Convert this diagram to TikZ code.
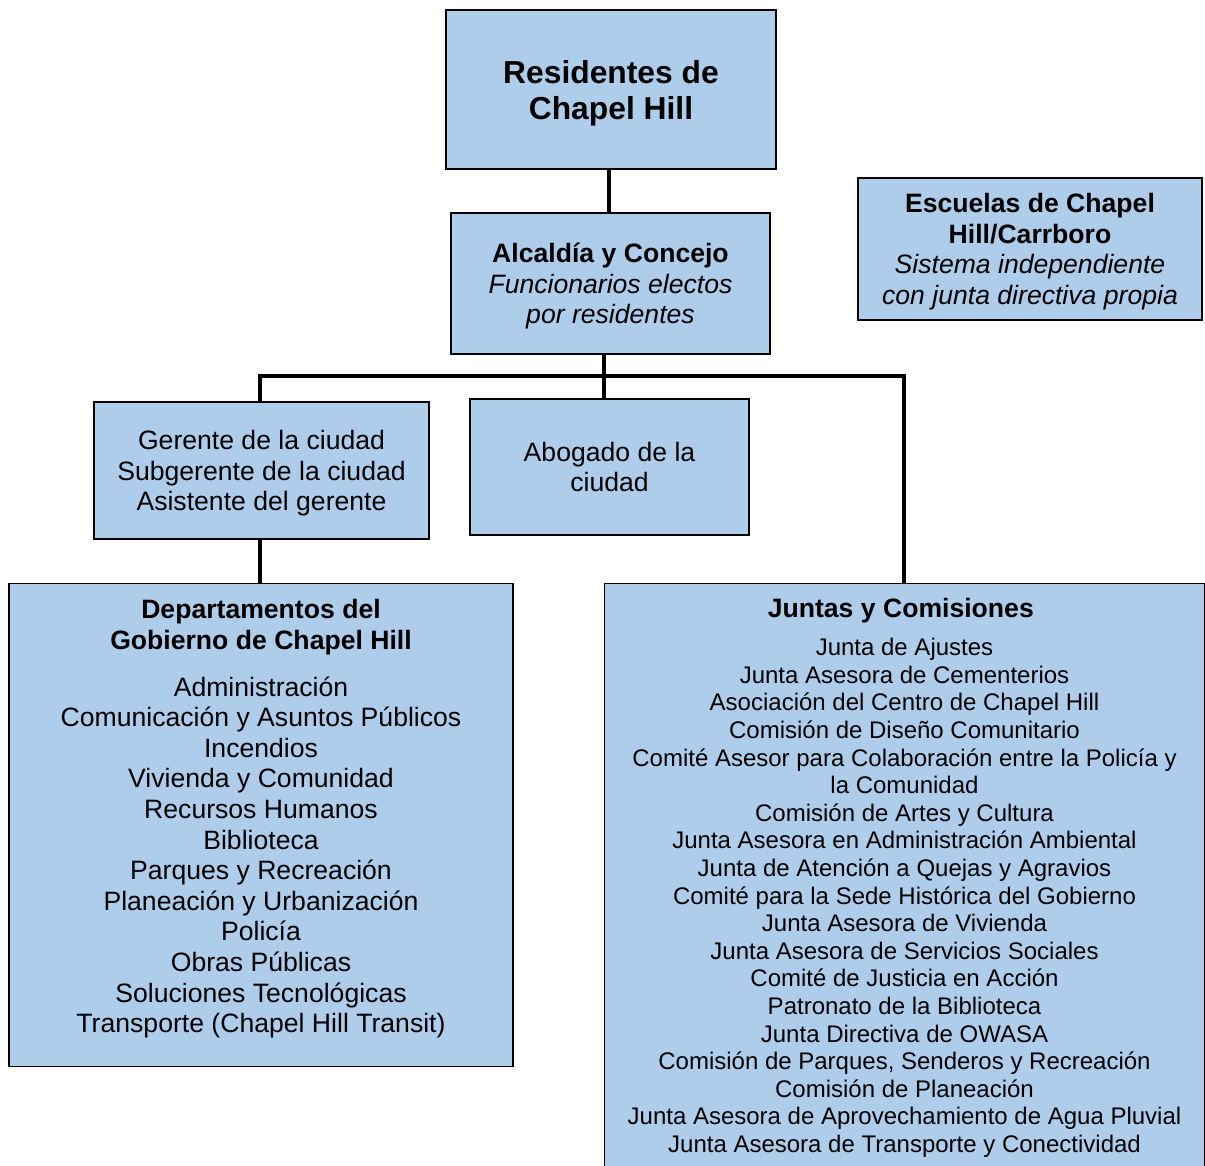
\documentclass[tikz,border=0pt]{standalone}
\usepackage{fontspec}
\setmainfont{Liberation Sans}
\usepackage{tikz}
\definecolor{boxblue}{RGB}{173, 205, 235}
\usetikzlibrary{positioning, calc}

\begin{document}
\begin{tikzpicture}[x=1pt, y=-1pt,
    box/.style={draw=black, line width=1.4pt, fill=boxblue, inner sep=0pt,
                text depth=0pt, align=center},
    link/.style={draw=black, line width=4.5pt},
    body/.style={font=\fontsize{26.6}{30.6}\selectfont},
    small/.style={font=\fontsize{24}{27.6}\selectfont}
]
    \useasboundingbox (0,0) rectangle (1205,1166);
    \clip (0,0) rectangle (1205,1166);

    % Residentes
    \node[box, minimum width=330, minimum height=159,
          font=\fontsize{31.8}{36}\selectfont\bfseries] (res) at (611,89.5) {
        Residentes de\\Chapel Hill
    };

    % Alcaldia
    \node[box, body, minimum width=319, minimum height=141] (mayor) at (610.5,283.5) {
        \textbf{Alcald\'ia y Concejo}\\
        \textit{Funcionarios electos}\\
        \textit{por residentes}
    };

    % Escuelas
    \node[box, body, minimum width=344, minimum height=142] (schools) at (1030,249) {
        \textbf{Escuelas de Chapel}\\
        \textbf{Hill/Carrboro}\\
        \textit{Sistema independiente}\\
        \textit{con junta directiva propia}
    };

    % Gerente
    \node[box, body, minimum width=335, minimum height=137] (manager) at (261.5,470.5) {
        Gerente de la ciudad\\
        Subgerente de la ciudad\\
        Asistente del gerente
    };

    % Abogado
    \node[box, body, minimum width=279, minimum height=136] (lawyer) at (609.5,467) {
        Abogado de la\\ciudad
    };

    % Departamentos
    \node[box, minimum width=504, minimum height=483, anchor=north] (depts) at (261,583) {};
    \node[body, align=center, anchor=north] (deptstext) at ([yshift=-13pt]depts.north) {
        \textbf{Departamentos del}\\
        \textbf{Gobierno de Chapel Hill}\\[16pt]
        Administraci\'on\\
        Comunicaci\'on y Asuntos P\'ublicos\\
        Incendios\\
        Vivienda y Comunidad\\
        Recursos Humanos\\
        Biblioteca\\
        Parques y Recreaci\'on\\
        Planeaci\'on y Urbanizaci\'on\\
        Polic\'ia\\
        Obras P\'ublicas\\
        Soluciones Tecnol\'ogicas\\
        Transporte (Chapel Hill Transit)
    };

    % Juntas
    \node[box, minimum width=600, minimum height=600, anchor=north] (boards) at (904.5,583) {};
    \node[body, align=center, anchor=north] (boardshead) at ([yshift=-12pt]boards.north) {
        \textbf{Juntas y Comisiones}
    };
    \node[small, align=center, anchor=north] (boardstext) at ([yshift=-8pt]boardshead.south) {
        Junta de Ajustes\\
        Junta Asesora de Cementerios\\
        Asociaci\'on del Centro de Chapel Hill\\
        Comisi\'on de Dise\~no Comunitario\\
        Comit\'e Asesor para Colaboraci\'on entre la Polic\'ia y\\
        la Comunidad\\
        Comisi\'on de Artes y Cultura\\
        Junta Asesora en Administraci\'on Ambiental\\
        Junta de Atenci\'on a Quejas y Agravios\\
        Comit\'e para la Sede Hist\'orica del Gobierno\\
        Junta Asesora de Vivienda\\
        Junta Asesora de Servicios Sociales\\
        Comit\'e de Justicia en Acci\'on\\
        Patronato de la Biblioteca\\
        Junta Directiva de OWASA\\
        Comisi\'on de Parques, Senderos y Recreaci\'on\\
        Comisi\'on de Planeaci\'on\\
        Junta Asesora de Aprovechamiento de Agua Pluvial\\
        Junta Asesora de Transporte y Conectividad
    };

    % Connectors
    \coordinate (bus) at (604,376);
    \draw[link] (res.south -| 609,0) -- (mayor.north -| 609,0);
    \draw[link] (mayor.south -| bus) -- (bus) -- (bus |- lawyer.north);
    \draw[link] (manager.north -| 260,0) |- (bus) -| (boards.north -| 904,0);
    \draw[link] (manager.south -| 260,0) -- (depts.north -| 260,0);
\end{tikzpicture}
\end{document}
